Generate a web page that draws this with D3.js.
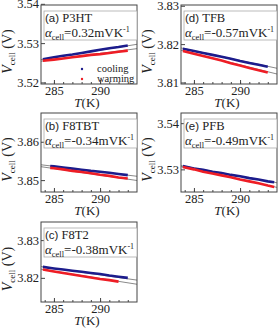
<!DOCTYPE html>
<html>
<head>
<meta charset="utf-8">
<script src="https://cdn.jsdelivr.net/npm/d3@7"></script>
<style>
body { margin: 0; background: #fff; }
text { font-family: "Liberation Serif", "Times New Roman", serif; fill: #222; }
</style>
</head>
<body>
<div id="chart"></div>
<script>
// Cell voltage vs temperature, five materials //////////////////////////////

var tempK = [283.8, 285, 286, 287, 288, 289, 290, 291, 292, 293];
var tempB = [284.6, 285, 286, 287, 288, 289, 290, 291, 292, 293];
var tempE = [283.8, 285, 286, 287, 288, 289, 290, 291, 292, 293, 293.7];
var tempC = [283.8, 285, 286, 287, 288, 289, 290, 291, 292];
var fitT = [283.6, 294.0];

var xTicks = [285, 290];
var xMinor = [284, 285, 286, 287, 288, 289, 290, 291, 292, 293];

var labels = ['(a)', '(b)', '(c)', '(d)', '(e)'];
var materials = ['P3HT', 'F8TBT', 'F8T2', 'TFB', 'PFB'];
var alphas = ['0.32', '-0.34', '-0.38', '-0.57', '-0.49'];

var yTicksA = [3.52, 3.53, 3.54];
var yTicksB = [3.85, 3.86];
var yTicksC = [3.82, 3.83];
var yTicksD = [3.81, 3.82, 3.83];
var yTicksE = [3.53, 3.54];

var yRangeA = [3.5196, 3.5397];
var yRangeB = [3.8469, 3.8675];
var yRangeC = [3.8136, 3.8348];
var yRangeD = [3.8096, 3.8302];
var yRangeE = [3.5251, 3.5422];

var coolA = [3.5259, 3.5264, 3.5268, 3.5271, 3.5275, 3.5279, 3.5283, 3.5287, 3.5290, 3.5294];
var warmA = [3.5255, 3.5258, 3.5261, 3.5264, 3.5267, 3.5270, 3.5272, 3.5275, 3.5278, 3.5281];
var fitCoolA = [3.5258, 3.5297];
var fitWarmA = [3.5254, 3.5286];

var coolB = [3.8537, 3.8536, 3.8533, 3.8530, 3.8527, 3.8524, 3.8522, 3.8519, 3.8516, 3.8513];
var warmB = [3.8532, 3.8531, 3.8528, 3.8524, 3.8521, 3.8518, 3.8514, 3.8511, 3.8507, 3.8504];
var fitCoolB = [3.8540, 3.8510];
var fitWarmB = [3.8535, 3.8499];

var coolC = [3.8229, 3.8225, 3.8222, 3.8219, 3.8216, 3.8213, 3.8210, 3.8206, 3.8203, 3.8200];
var warmC = [3.8222, 3.8217, 3.8213, 3.8209, 3.8205, 3.8201, 3.8197, 3.8194, 3.8190];
var fitCoolC = [3.8230, 3.8194];
var fitWarmC = [3.8223, 3.8183];

var coolD = [3.8188, 3.8182, 3.8177, 3.8172, 3.8167, 3.8162, 3.8156, 3.8151, 3.8146, 3.8141];
var warmD = [3.8182, 3.8175, 3.8169, 3.8163, 3.8157, 3.8150, 3.8144, 3.8138, 3.8132, 3.8126];
var fitCoolD = [3.8190, 3.8137];
var fitWarmD = [3.8184, 3.8122];

var coolE = [3.5307, 3.5302, 3.5299, 3.5295, 3.5292, 3.5288, 3.5285, 3.5281, 3.5278, 3.5274, 3.5272];
var warmE = [3.5305, 3.5300, 3.5295, 3.5291, 3.5287, 3.5283, 3.5278, 3.5274, 3.5270, 3.5265, 3.5262];
var fitCoolE = [3.5308, 3.5271];
var fitWarmE = [3.5306, 3.5261];

///////////////////////////////////////////////////////////////////////////////

var plotW = 96;
var blue = '#1c1c8c';
var red = '#ee1d25';
var grey = '#8a8a8a';

var svg = d3.select('#chart').append('svg')
  .attr('width', 280)
  .attr('height', 330);

svg.append('rect')
  .attr('width', 280)
  .attr('height', 330)
  .style('fill', '#fff');

var panels = [
  { i: 0, x: 41, y: 5, h: 79, ticks: yTicksA, range: yRangeA, coolT: tempK, cool: coolA, warmT: tempK, warm: warmA, fitCool: fitCoolA, fitWarm: fitWarmA },
  { i: 1, x: 41, y: 113, h: 79, ticks: yTicksB, range: yRangeB, coolT: tempB, cool: coolB, warmT: tempB, warm: warmB, fitCool: fitCoolB, fitWarm: fitWarmB },
  { i: 2, x: 41, y: 222, h: 80, ticks: yTicksC, range: yRangeC, coolT: tempK, cool: coolC, warmT: tempC, warm: warmC, fitCool: fitCoolC, fitWarm: fitWarmC },
  { i: 3, x: 181, y: 5, h: 79, ticks: yTicksD, range: yRangeD, coolT: tempK, cool: coolD, warmT: tempK, warm: warmD, fitCool: fitCoolD, fitWarm: fitWarmD },
  { i: 4, x: 181, y: 113, h: 79, ticks: yTicksE, range: yRangeE, coolT: tempE, cool: coolE, warmT: tempE, warm: warmE, fitCool: fitCoolE, fitWarm: fitWarmE }
];

panels.forEach(drawPanel);
coolingLegend(panels[0]);

///////////////////////////////////////////////////////////////////////////////

function drawPanel(p) {
  var g = svg.append('g')
    .attr('transform', 'translate(' + p.x + ',' + p.y + ')');

  var x = d3.scaleLinear().domain(fitT).range([0, plotW]);
  var y = d3.scaleLinear().domain(p.range).range([p.h, 0]);

  g.append('clipPath').attr('id', 'clip' + p.i)
    .append('rect').attr('width', plotW).attr('height', p.h);

  var line = d3.line()
    .x(function(d){ return x(d[0]); })
    .y(function(d){ return y(d[1]); });

  var data = g.append('g').attr('clip-path', 'url(#clip' + p.i + ')');

  [p.fitCool, p.fitWarm].forEach(function(f){
    data.append('path')
      .attr('d', line(d3.zip(fitT, f)))
      .style('fill', 'none')
      .style('stroke', grey)
      .style('stroke-width', 1);
  });

  data.append('path')
    .attr('d', line(d3.zip(p.coolT, p.cool)))
    .style('fill', 'none')
    .style('stroke', blue)
    .style('stroke-width', 2.6);

  data.append('path')
    .attr('d', line(d3.zip(p.warmT, p.warm)))
    .style('fill', 'none')
    .style('stroke', red)
    .style('stroke-width', 2.6);

  // axes, ticks pointing inward
  var xAxis = g.append('g')
    .attr('transform', 'translate(0,' + p.h + ')')
    .call(d3.axisBottom(x).tickValues(xTicks).tickSize(-4).tickPadding(2).tickFormat(d3.format('d')));
  g.append('g')
    .attr('transform', 'translate(0,' + p.h + ')')
    .call(d3.axisBottom(x).tickValues(xMinor).tickSize(-2).tickFormat(''));

  var yAxis = g.append('g')
    .call(d3.axisLeft(y).tickValues(p.ticks).tickSize(-4).tickPadding(2).tickFormat(d3.format('.2f')));

  g.selectAll('.domain').remove();
  g.selectAll('.tick line').style('stroke', '#444');
  [xAxis, yAxis].forEach(function(a){
    a.attr('font-family', null).attr('font-size', null);
    a.selectAll('text').style('font-size', '12.5px').style('fill', '#222');
  });

  g.append('rect')
    .attr('width', plotW)
    .attr('height', p.h)
    .style('fill', 'none')
    .style('stroke', '#444')
    .style('stroke-width', 1);

  // label box
  g.append('rect')
    .attr('x', 3)
    .attr('y', 6)
    .attr('width', plotW - 3)
    .attr('height', 29)
    .style('fill', '#fff')
    .style('stroke', '#aaa')
    .style('stroke-width', 0.8);

  var t1 = g.append('text').attr('x', 4).attr('y', 17).style('font-size', '12.5px');
  t1.append('tspan').text(labels[p.i] + ' ')
    .style('font-family', '"Liberation Sans", Arial, sans-serif')
    .style('font-size', '11.5px');
  t1.append('tspan').text(materials[p.i]);

  var t2 = g.append('text').attr('x', 4).attr('y', 32).style('font-size', '13px');
  t2.append('tspan').text('\u03b1').style('font-style', 'italic');
  t2.append('tspan').text('cell').attr('dy', 3).style('font-size', '8.5px');
  t2.append('tspan').text('=' + alphas[p.i] + 'mVK').attr('dy', -3);
  t2.append('tspan').text('-1').attr('dy', -5).style('font-size', '8px');

  // axis titles
  var xt = g.append('text')
    .attr('x', plotW / 2 - 2)
    .attr('y', p.h + 23)
    .attr('text-anchor', 'middle')
    .style('font-size', '13px');
  xt.append('tspan').text('T').style('font-style', 'italic');
  xt.append('tspan').text('(K)');

  var yt = g.append('text')
    .attr('transform', 'translate(-29,' + (p.h / 2 + 7) + ') rotate(-90)')
    .attr('text-anchor', 'middle')
    .style('font-size', '14px');
  yt.append('tspan').text('V').style('font-style', 'italic');
  yt.append('tspan').text('cell').attr('dy', 3).style('font-size', '9px');
  yt.append('tspan').text(' (V)').attr('dy', -3);
}

function coolingLegend(p) {
  var g = svg.append('g')
    .attr('transform', 'translate(' + p.x + ',' + p.y + ')');
  var items = [['cooling', blue], ['warming', red]];

  g.selectAll('circle')
    .data(items)
    .enter().append('circle')
    .attr('cx', 41)
    .attr('cy', function(d, i){ return 64 + i * 10; })
    .attr('r', 1.2)
    .style('fill', function(d){ return d[1]; });

  g.selectAll('text.leg')
    .data(items)
    .enter().append('text')
    .attr('class', 'leg')
    .attr('x', 56)
    .attr('y', function(d, i){ return 67 + i * 10; })
    .style('font-size', '10.5px')
    .text(function(d){ return d[0]; });
}
</script>
</body>
</html>
